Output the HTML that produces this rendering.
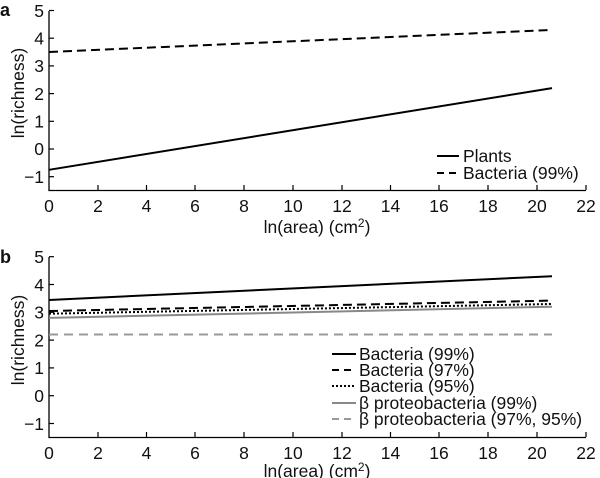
<!DOCTYPE html>
<html><head><style>body{margin:0;background:#fff}svg{display:block}text{font-family:"Liberation Sans",Arial,sans-serif;fill:#111}</style></head>
<body>
<svg width="600" height="478" viewBox="0 0 600 478">
<g id="a">
<text x="0" y="16" font-size="18" font-weight="bold">a</text>
<polyline points="49,11 49,190.5 586,190.5" fill="none" stroke="#000" stroke-width="1.3"/>
<g stroke="#000" stroke-width="1.2">
<line x1="49" y1="10.5" x2="54" y2="10.5"/><line x1="49" y1="38.2" x2="54" y2="38.2"/><line x1="49" y1="65.9" x2="54" y2="65.9"/><line x1="49" y1="93.6" x2="54" y2="93.6"/><line x1="49" y1="121.3" x2="54" y2="121.3"/><line x1="49" y1="149" x2="54" y2="149"/><line x1="49" y1="176.7" x2="54" y2="176.7"/>
<line x1="98" y1="190" x2="98" y2="185"/><line x1="146.5" y1="190" x2="146.5" y2="185"/><line x1="195" y1="190" x2="195" y2="185"/><line x1="244" y1="190" x2="244" y2="185"/><line x1="293" y1="190" x2="293" y2="185"/><line x1="342" y1="190" x2="342" y2="185"/><line x1="390.5" y1="190" x2="390.5" y2="185"/><line x1="439" y1="190" x2="439" y2="185"/><line x1="488" y1="190" x2="488" y2="185"/><line x1="537" y1="190" x2="537" y2="185"/><line x1="586" y1="190" x2="586" y2="185"/>
</g>
<g font-size="17.5" text-anchor="end">
<text x="44" y="17">5</text><text x="44" y="44.5">4</text><text x="44" y="72">3</text><text x="44" y="100">2</text><text x="44" y="127.5">1</text><text x="44" y="155">0</text><text x="44" y="183">−1</text>
</g>
<g font-size="17.5" text-anchor="middle">
<text x="49" y="212">0</text><text x="98" y="212">2</text><text x="146.5" y="212">4</text><text x="195" y="212">6</text><text x="244" y="212">8</text><text x="293" y="212">10</text><text x="342" y="212">12</text><text x="390.5" y="212">14</text><text x="439" y="212">16</text><text x="488" y="212">18</text><text x="537" y="212">20</text><text x="586" y="212">22</text>
</g>
<text x="317" y="233" font-size="17.5" text-anchor="middle">ln(area) (cm<tspan font-size="12" dy="-6">2</tspan><tspan dy="6">)</tspan></text>
<text transform="translate(24,93) rotate(-90)" font-size="17.5" text-anchor="middle">ln(richness)</text>
<line x1="49" y1="169.8" x2="552" y2="88.1" stroke="#000" stroke-width="2"/>
<line x1="49" y1="52" x2="552" y2="29.9" stroke="#000" stroke-width="2" stroke-dasharray="9,5"/>
<line x1="437" y1="156" x2="459" y2="156" stroke="#000" stroke-width="2"/>
<line x1="437" y1="173" x2="459" y2="173" stroke="#000" stroke-width="2" stroke-dasharray="7,5"/>
<text x="463" y="162" font-size="17.5">Plants</text>
<text x="463" y="179" font-size="17.5">Bacteria (99%)</text>
</g>
<g id="b">
<text x="0" y="263" font-size="18" font-weight="bold">b</text>
<polyline points="49,257 49,437.5 586,437.5" fill="none" stroke="#000" stroke-width="1.3"/>
<g stroke="#000" stroke-width="1.2">
<line x1="49" y1="256.7" x2="54" y2="256.7"/><line x1="49" y1="284.5" x2="54" y2="284.5"/><line x1="49" y1="312.3" x2="54" y2="312.3"/><line x1="49" y1="340.1" x2="54" y2="340.1"/><line x1="49" y1="367.9" x2="54" y2="367.9"/><line x1="49" y1="395.7" x2="54" y2="395.7"/><line x1="49" y1="423.5" x2="54" y2="423.5"/>
<line x1="98" y1="437" x2="98" y2="432"/><line x1="146.5" y1="437" x2="146.5" y2="432"/><line x1="195" y1="437" x2="195" y2="432"/><line x1="244" y1="437" x2="244" y2="432"/><line x1="293" y1="437" x2="293" y2="432"/><line x1="342" y1="437" x2="342" y2="432"/><line x1="390.5" y1="437" x2="390.5" y2="432"/><line x1="439" y1="437" x2="439" y2="432"/><line x1="488" y1="437" x2="488" y2="432"/><line x1="537" y1="437" x2="537" y2="432"/><line x1="586" y1="437" x2="586" y2="432"/>
</g>
<g font-size="17.5" text-anchor="end">
<text x="44" y="263">5</text><text x="44" y="291">4</text><text x="44" y="318.5">3</text><text x="44" y="346.5">2</text><text x="44" y="374">1</text><text x="44" y="402">0</text><text x="44" y="430">−1</text>
</g>
<g font-size="17.5" text-anchor="middle">
<text x="49" y="459">0</text><text x="98" y="459">2</text><text x="146.5" y="459">4</text><text x="195" y="459">6</text><text x="244" y="459">8</text><text x="293" y="459">10</text><text x="342" y="459">12</text><text x="390.5" y="459">14</text><text x="439" y="459">16</text><text x="488" y="459">18</text><text x="537" y="459">20</text><text x="586" y="459">22</text>
</g>
<text x="317" y="477" font-size="17.5" text-anchor="middle">ln(area) (cm<tspan font-size="12" dy="-6">2</tspan><tspan dy="6">)</tspan></text>
<text transform="translate(24,340) rotate(-90)" font-size="17.5" text-anchor="middle">ln(richness)</text>
<line x1="49" y1="300" x2="552" y2="276.2" stroke="#000" stroke-width="2"/>
<line x1="49" y1="311" x2="552" y2="300.6" stroke="#000" stroke-width="2" stroke-dasharray="9,5"/>
<line x1="49" y1="313.7" x2="552" y2="304" stroke="#000" stroke-width="2" stroke-dasharray="2,2"/>
<line x1="49" y1="317.9" x2="552" y2="306.7" stroke="#888" stroke-width="2"/>
<line x1="49" y1="334.5" x2="552" y2="334.5" stroke="#999" stroke-width="2" stroke-dasharray="9,6"/>
<line x1="332" y1="354" x2="356" y2="354" stroke="#000" stroke-width="2"/>
<line x1="332" y1="370" x2="356" y2="370" stroke="#000" stroke-width="2" stroke-dasharray="7,5"/>
<line x1="332" y1="386" x2="356" y2="386" stroke="#000" stroke-width="2" stroke-dasharray="2,2"/>
<line x1="332" y1="403" x2="356" y2="403" stroke="#888" stroke-width="2"/>
<line x1="332" y1="419" x2="356" y2="419" stroke="#999" stroke-width="2" stroke-dasharray="7,5"/>
<g font-size="17.5">
<text x="359" y="360">Bacteria (99%)</text>
<text x="359" y="376">Bacteria (97%)</text>
<text x="359" y="392">Bacteria (95%)</text>
<text x="359" y="409">β proteobacteria (99%)</text>
<text x="359" y="425">β proteobacteria (97%, 95%)</text>
</g>
</g>
</svg>
</body></html>
